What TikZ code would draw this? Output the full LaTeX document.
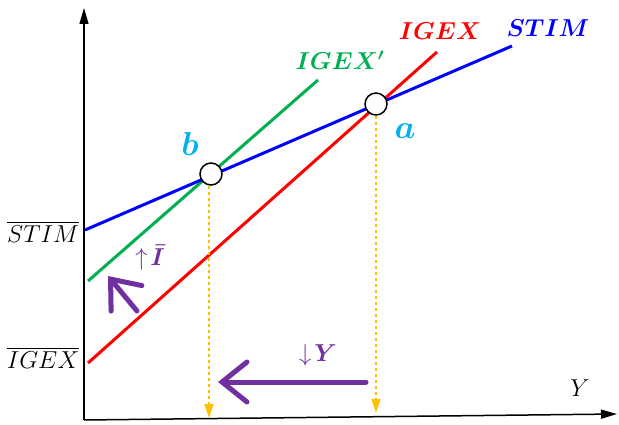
\documentclass[tikz,border=0pt]{standalone}
\usepackage{graphicx}
\usepackage{amsmath,bm}
\usetikzlibrary{arrows.meta}
\definecolor{stimblue}{RGB}{0,0,255}
\definecolor{igexred}{RGB}{255,0,0}
\definecolor{igexgreen}{RGB}{0,176,80}
\definecolor{shiftpurple}{RGB}{112,48,160}
\definecolor{dropyellow}{RGB}{255,192,0}
\definecolor{pointcyan}{RGB}{0,176,240}
\newcommand{\bigpt}[1]{\scalebox{1.6}{$\bm{#1}$}}
\newcommand{\labtxt}[1]{\scalebox{1.18}{$#1$}}
\tikzset{
  curve/.style={line width=3pt},
  eqpoint/.style={circle,draw=black,line width=1.5pt,fill=white,minimum size=22pt,inner sep=0pt},
  drop/.style={dropyellow,dashed,line width=1.3pt,-{Triangle[length=14pt,width=9pt]}},
  move/.style={shiftpurple,line width=5pt,line cap=round,-{Straight Barb[length=25pt,width=40pt,line cap=round]}},
  lbl/.style={inner sep=0.75pt,font=\huge}
}
\begin{document}
\begin{tikzpicture}[x=1pt,y=1pt,yscale=-1,xscale=1]
\useasboundingbox (0,0) rectangle (619,425);
% axes
\coordinate (O) at (84,420);
\draw [line width=1.5pt,-{Triangle[length=16pt,width=9pt]}] (O) -- (84,8);
\draw [line width=1.5pt,-{Triangle[length=16pt,width=9pt]}] (O) -- (617,414);
\draw (580,388) node [lbl] (ylab) {\labtxt{Y}};
\draw (43,232) node [lbl] (stimbar) {\labtxt{\overline{STIM}}};
\draw (43,358) node [lbl] (igexbar) {\labtxt{\overline{IGEX}}};
% schedules
\coordinate (s0) at (85,230);
\coordinate (s1) at (512,46);
\coordinate (r0) at (88,363);
\coordinate (r1) at (437,52);
\coordinate (g0) at (88,281);
\coordinate (g1) at (318,80);
\draw [curve,igexgreen] (g0) -- (g1);
\draw [curve,igexred] (r0) -- (r1);
\draw [curve,stimblue] (s0) -- (s1);
\draw (340,60) node [lbl,igexgreen] (igexnew) {\labtxt{\bm{IGEX'}}};
\draw (440,31) node [lbl,igexred] (igex) {\labtxt{\bm{IGEX}}};
\draw (548,28) node [lbl,stimblue] (stim) {\labtxt{\bm{STIM}}};
% equilibria
\node [eqpoint] (a) at (376,104) {};
\node [eqpoint] (b) at (211,174) {};
\draw (405,131) node [lbl,pointcyan] (alab) {\bigpt{a}};
\draw (190,144) node [lbl,pointcyan] (blab) {\bigpt{b}};
\coordinate (ya) at (376,413);
\coordinate (yb) at (209,418);
\draw [drop] (a.south) -- (ya);
\draw [drop] (b.south -| yb) -- (yb);
% shifts
\coordinate (ystart) at (366,382);
\coordinate (yend) at (218,382);
\draw [move] (ystart) -- (yend);
\draw (318,355) node [lbl,shiftpurple] (ydown) {\labtxt{\downarrow\!\bm{Y}}};
\coordinate (istart) at (137,311);
\coordinate (iend) at (108,276);
\draw [move] (istart) -- (iend);
\draw (150,258) node [lbl,shiftpurple] (iup) {\labtxt{\uparrow\!\bm{\bar{I}}}};
\end{tikzpicture}
\end{document}
